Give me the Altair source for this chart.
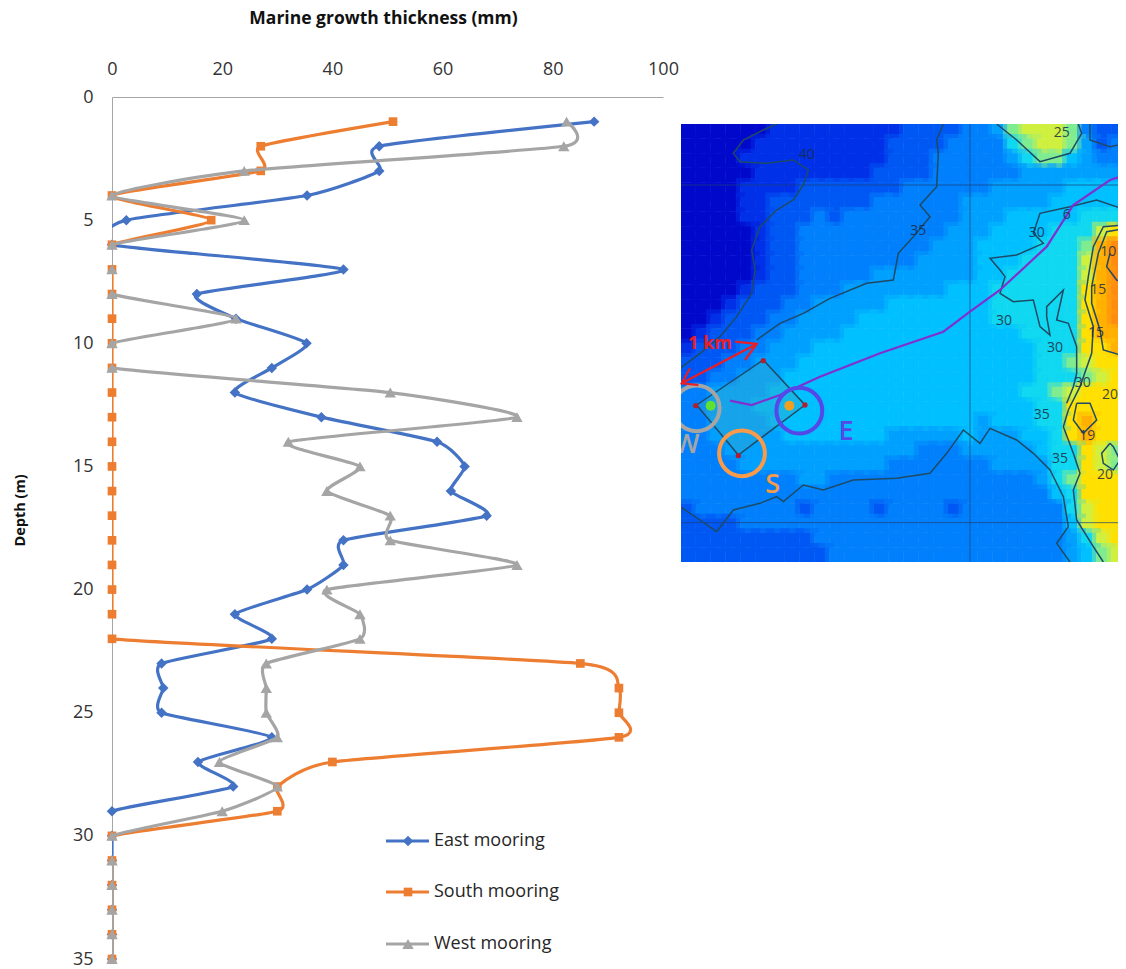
import altair as alt
import pandas as pd

# ---------- chart values ----------
depth = list(range(1, 36))
east = [87.5, 48.5, 48.5, 35.4, 2.6, 0, 42, 15.4, 22.5, 35.3, 29, 22.3, 38, 59, 64, 61.5, 68, 42, 42, 35.4,
        22.3, 29, 9, 9.3, 9, 29, 15.6, 22, 0, 0, 0, 0, 0, 0, 0]
south = [51, 27, 27, 0, 18, 0, 0, 0, 0, 0, 0, 0, 0, 0, 0, 0, 0, 0, 0, 0,
         0, 0, 85, 92, 92, 92, 40, 30, 30, 0, 0, 0, 0, 0, 0]
west = [82.5, 82, 24, 0, 24, 0, 0, 0, 22.5, 0, 0, 50.5, 73.5, 32, 45, 39, 50.5, 50.5, 73.5, 39,
        45, 45, 28, 28, 28, 30, 19.5, 30, 20, 0, 0, 0, 0, 0, 0]
series_names = ["East mooring", "South mooring", "West mooring"]
series_colors = ["#4472c4", "#ed7d31", "#a5a5a5"]
series_shapes = ["diamond", "square", "triangle-up"]
series_sizes = [110, 75, 130]
x_ticks = [0, 20, 40, 60, 80, 100]
y_ticks = [0, 5, 10, 15, 20, 25, 30, 35]

# ---------- map values (hex digit = colour class) ----------
map_rows = [
    "00000 01111 11111 22223 34788 87322",
    "00000 11111 11112 22233 33678 87423",
    "00001 11111 11112 22333 33467 75433",
    "00000 11111 11122 22333 33344 44444",
    "00001 11122 22222 33333 34444 45555",
    "00001 12222 22233 33334 44444 55555",
    "00001 12223 23333 33334 44555 55666",
    "00000 12233 33333 33344 45555 66689",
    "00000 12233 33333 33444 55556 667ab",
    "00000 12233 33333 34444 55566 668ab",
    "00000 12233 33344 44444 55666 668ab",
    "00001 22233 34444 44455 56666 669ab",
    "00012 22334 44445 55555 56666 669ab",
    "00122 23344 44555 55555 56666 669ab",
    "01222 33444 45555 55555 55566 669aa",
    "12223 34445 55555 55555 55556 6699a",
    "22233 44455 55555 55555 55556 67899",
    "22334 44555 55555 55555 55556 66789",
    "33444 45555 55555 55555 55566 78999",
    "33444 55555 55555 55555 55556 69999",
    "33444 45555 55555 55555 45556 69a99",
    "33444 44555 55554 44445 44455 69a99",
    "33344 44444 44444 43334 44445 66987",
    "33334 44444 44443 33333 34444 66987",
    "33333 33344 33333 33333 33334 67999",
    "33333 33333 33333 33333 33333 56999",
    "23333 33323 33323 33323 33333 36899",
    "22223 33333 33333 33333 33333 35899",
    "22222 22223 33333 33333 33333 34689",
    "22222 22222 33333 33333 33333 34578",
]
map_stops = [0, 1, 2, 3, 4, 5, 6, 7, 8, 9, 10, 11]
map_colors = ["#0008cc", "#0030e8", "#0058f4", "#0080fc", "#00a0ff", "#00c0ff",
              "#10d8f0", "#80ec90", "#d0f040", "#ffe000", "#ffb000", "#ff8c10"]

contours = [
    [(0,745),(60,700),(120,650),(170,590),(215,520),(225,450),(215,390),(240,320),(290,270),(340,240),(370,195),(385,150),(340,120),(260,130),(180,125),(160,100),(190,60),(250,30),(290,12)],
    [(230,660),(300,610),(370,580),(450,535),(560,490),(640,480),(655,400),(700,350),(750,290),(720,255),(770,200),(775,100),(770,60),(790,12)],
    [(0,1160),(60,1200),(110,1235),(160,1170),(240,1150),(290,1130),(310,1145),(370,1095),(430,1110),(520,1080),(650,1075),(750,1060),(800,1000),(850,930),(900,970),(930,925),(1010,960),(1060,1000),(1110,1050),(1150,1130),(1165,1220),(1130,1270),(1170,1326)],
    [(1338,270),(1250,240),(1170,260),(1080,280),(1060,340),(1090,370),(1010,405),(930,415),(960,450),(975,470),(960,520),(1000,545),(1060,540),(1080,620),(1110,645),(1100,590),(1100,560),(1150,510),(1130,600),(1165,610),(1190,680),(1190,760),(1180,800),(1160,850)],
    [(950,12),(1010,60),(1080,125),(1170,100),(1205,40),(1195,12)],
    [(1230,12),(1230,60),(1290,80),(1338,70)],
    [(1338,315),(1270,320),(1240,380),(1225,470),(1215,540),(1240,620),(1235,700),(1200,800),(1165,870),(1150,920),(1180,1000),(1200,1060),(1180,1110),(1190,1200),(1240,1280),(1270,1326)],
    [(1338,325),(1280,335),(1255,400),(1235,500),(1235,550),(1260,630),(1270,690),(1338,710)],
    [(1290,400),(1280,440),(1310,480),(1338,490)],
    [(1290,970),(1265,1000),(1270,1030),(1300,1050),(1320,1020),(1300,980),(1290,970)],
    [(1190,850),(1230,850),(1250,900),(1210,940),(1180,900),(1190,850)],
    [(50,855),(250,720),(375,855),(175,1005),(50,855)],
]
grid_lines = [[(870,12),(870,1326)], [(3,195),(1338,195)], [(3,1208),(1338,1208)]]
route = [(150,842),(215,855),(300,825),(420,770),(600,700),(790,635),(870,575),(960,510),(1100,380),(1180,255),(1290,180),(1338,165)]
arrows = [[(5,790),(230,672)], [(55,795),(5,790),(30,745)], [(165,665),(230,672),(195,720)]]
site_x = [50, 175, 250, 375]
site_top = [855, 770, 720, 855]
site_bottom = [855, 1005, 949, 855]
corner_x = [47, 250, 375, 175]
corner_y = [857, 722, 855, 1007]
ring_x = [50, 186, 358]
ring_y = [865, 1000, 872]
ring_colors = ["#a5a5a5", "#f79a4a", "#5548e8"]
dot_x = [92, 328]
dot_y = [857, 857]
dot_colors = ["#60e030", "#f0a020"]
site_letters = ["W", "S", "E"]
letter_x = [20, 278, 498]
letter_y = [975, 1095, 935]
label_text = ["40","35","30","30","30","30","35","35","25","15","15","20","10","19","20","6"]
label_x = [380,715,1070,972,1125,1208,1085,1140,1145,1255,1248,1290,1285,1222,1275,1160]
label_y = [105,332,340,602,683,790,885,1018,38,510,640,825,395,948,1065,285]
mask_x = [-60, 3, 3]
mask_x2 = [3, 1340, 1340]
mask_y = [-20, -20, 1326]
mask_y2 = [1360, 12, 1360]

FONT = "Open Sans"
PLOT_W, PLOT_H = 1006, 862

# ---------- scales ----------
xs = alt.Scale(domain=[0, 100], range=[0, 551])
ys = alt.Scale(domain=[0, 35], range=[0, 862])
mxs = alt.Scale(domain=[3, 1338], range=[569, 1014])
mys = alt.Scale(domain=[12, 1326], range=[27, 465])
def mx(f): return alt.X(f, type="quantitative", scale=mxs, axis=None)
def my(f): return alt.Y(f, type="quantitative", scale=mys, axis=None)
def mx2(f): return alt.X2(f)
def my2(f): return alt.Y2(f)

# ---------- profile chart ----------
long = pd.DataFrame({
    "depth": depth * 3,
    "thickness": east + south + west,
    "series": sum([[n] * len(depth) for n in series_names], []),
})
x_axis = alt.Axis(orient="top", values=x_ticks, ticks=False, grid=False, domainColor="#a6a6a6", domainWidth=1,
                  labelFont=FONT, labelFontSize=18, labelColor="#333333", labelPadding=19, labelOverlap=False,
                  labelFlush=False,
                  title="Marine growth thickness (mm)", titleFont=FONT, titleFontSize=17.5, titleFontWeight="bold",
                  titleColor="#111111", titleX=271, titleY=-70, titleAlign="center")
y_axis = alt.Axis(orient="left", values=y_ticks, ticks=False, grid=False, domainColor="#a6a6a6", domainWidth=1,
                  labelFont=FONT, labelFontSize=18, labelColor="#333333", labelPadding=19, labelOverlap=False,
                  labelFlush=False,
                  title="Depth  (m)", titleFont=FONT, titleFontSize=14.5, titleFontWeight="bold",
                  titleColor="#111111", titleX=-85, titleY=413, titleAlign="center")

layers = []
for i, (name, col, shp, sz) in enumerate(zip(series_names, series_colors, series_shapes, series_sizes)):
    d = long[long.series == name]
    first = i == 0
    layers.append(alt.Chart(d).mark_line(interpolate="cardinal", tension=0.45, color=col, strokeWidth=3.2, clip=True).encode(
        x=alt.X("thickness:Q", scale=xs, axis=x_axis if first else None),
        y=alt.Y("depth:Q", scale=ys, axis=y_axis if first else None),
        order="depth:Q"))
    layers.append(alt.Chart(d).mark_point(shape=shp, size=sz, filled=True, opacity=1, color=col).encode(
        x=alt.X("thickness:Q", scale=xs, axis=None),
        y=alt.Y("depth:Q", scale=ys, axis=None)))

# ---------- legend ----------
legend_ys = [744, 795, 847]
for name, col, shp, sz, ly in zip(series_names, series_colors, series_shapes, series_sizes, legend_ys):
    row = alt.Data(values=[{"name": name}])
    layers.append(alt.Chart(row).mark_rule(color=col, strokeWidth=3.2).encode(
        x=alt.value(274), x2=alt.value(317), y=alt.value(ly)))
    layers.append(alt.Chart(row).mark_point(shape=shp, size=sz, filled=True, opacity=1, color=col).encode(
        x=alt.value(296), y=alt.value(ly)))
    layers.append(alt.Chart(row).mark_text(align="left", baseline="middle", font=FONT, fontSize=18, color="#262626").encode(
        x=alt.value(322), y=alt.value(ly), text="name:N"))

# ---------- map ----------
cells = []
for r, line in enumerate(map_rows):
    for c, ch in enumerate(line.replace(" ", "")):
        cells.append({"x": 3 + c * 44.5, "x2": 3 + (c + 1) * 44.5,
                      "y": 12 + r * 43.8, "y2": 12 + (r + 1) * 43.8, "v": int(ch, 16)})
cs = alt.Scale(domain=map_stops, range=map_colors)
map_layers = [alt.Chart(pd.DataFrame(cells)).mark_rect(strokeWidth=9, strokeOpacity=0.5, clip=True).encode(
    x=mx("x"), x2=mx2("x2"), y=my("y"), y2=my2("y2"),
    fill=alt.Fill("v:Q", scale=cs, legend=None),
    stroke=alt.Stroke("v:Q", scale=cs, legend=None))]
# the map's frame: soft cell edges and the grey ring stop at the picture's edge
mask = alt.Chart(pd.DataFrame({"x": mask_x, "x2": mask_x2, "y": mask_y, "y2": mask_y2})).mark_rect(color="white", clip=True).encode(
    x=mx("x"), x2=mx2("x2"), y=my("y"), y2=my2("y2"))

def polylines(items):
    return pd.DataFrame([{"id": k, "i": i, "x": p[0], "y": p[1]} for k, pts in enumerate(items) for i, p in enumerate(pts)])

map_layers.append(alt.Chart(polylines(grid_lines)).mark_line(color="#1c3f78", strokeWidth=1, opacity=0.7, clip=True).encode(
    x=mx("x"), y=my("y"), detail="id:N", order="i:Q"))
map_layers.append(alt.Chart(pd.DataFrame({"x": site_x, "t": site_top, "b": site_bottom})).mark_area(
    color="#38a8c8", opacity=0.4).encode(x=mx("x"), y=my("t"), y2=my2("b")))
map_layers.append(alt.Chart(polylines(contours)).mark_line(color="#1f4a66", strokeWidth=1.5, clip=True).encode(
    x=mx("x"), y=my("y"), detail="id:N", order="i:Q"))
map_layers.append(alt.Chart(polylines([route])).mark_line(color="#8030d0", strokeWidth=2.2, clip=True).encode(
    x=mx("x"), y=my("y"), order="i:Q"))
map_layers.append(alt.Chart(pd.DataFrame({"x": label_x, "y": label_y, "t": label_text})).mark_text(
    font=FONT, fontSize=14, color="#1c2c48", opacity=0.85, clip=True).encode(x=mx("x"), y=my("y"), text="t:N"))
map_layers.append(alt.Chart(pd.DataFrame({"x": corner_x, "y": corner_y})).mark_point(
    filled=True, size=28, opacity=1, color="#b02030").encode(x=mx("x"), y=my("y")))
map_layers.append(alt.Chart(pd.DataFrame({"x": dot_x, "y": dot_y, "c": dot_colors})).mark_point(
    filled=True, size=100, opacity=1).encode(x=mx("x"), y=my("y"), color=alt.Color("c:N", scale=None)))
map_layers.append(alt.Chart(pd.DataFrame({"x": ring_x, "y": ring_y, "c": ring_colors})).mark_point(
    filled=False, size=2100, opacity=1, strokeWidth=4).encode(x=mx("x"), y=my("y"), stroke=alt.Stroke("c:N", scale=None)))
map_layers.append(alt.Chart(pd.DataFrame({"x": letter_x, "y": letter_y, "t": site_letters, "c": ring_colors})).mark_text(
    font=FONT, fontSize=27, fontWeight=600).encode(x=mx("x"), y=my("y"), text="t:N", color=alt.Color("c:N", scale=None)))
map_layers.append(mask)
map_layers.append(alt.Chart(polylines(arrows)).mark_line(color="#ee1c25", strokeWidth=2.2).encode(
    x=mx("x"), y=my("y"), detail="id:N", order="i:Q"))
map_layers.append(alt.Chart(pd.DataFrame({"x": [90], "y": [672], "t": ["1 km"]})).mark_text(
    font=FONT, fontSize=18, fontWeight="bold", color="#ee1c25").encode(x=mx("x"), y=my("y"), text="t:N"))

chart = alt.layer(*(map_layers + layers)).resolve_scale(
    x="independent", y="independent", fill="independent", stroke="independent", color="independent"
).properties(
    width=PLOT_W, height=PLOT_H,
    padding={"left": 104, "top": 89, "right": 0, "bottom": 9},
    autosize=alt.AutoSizeParams(type="none"),
).configure_view(strokeWidth=0)

chart.save("out.html", embed_options={"renderer": "svg", "actions": False})
